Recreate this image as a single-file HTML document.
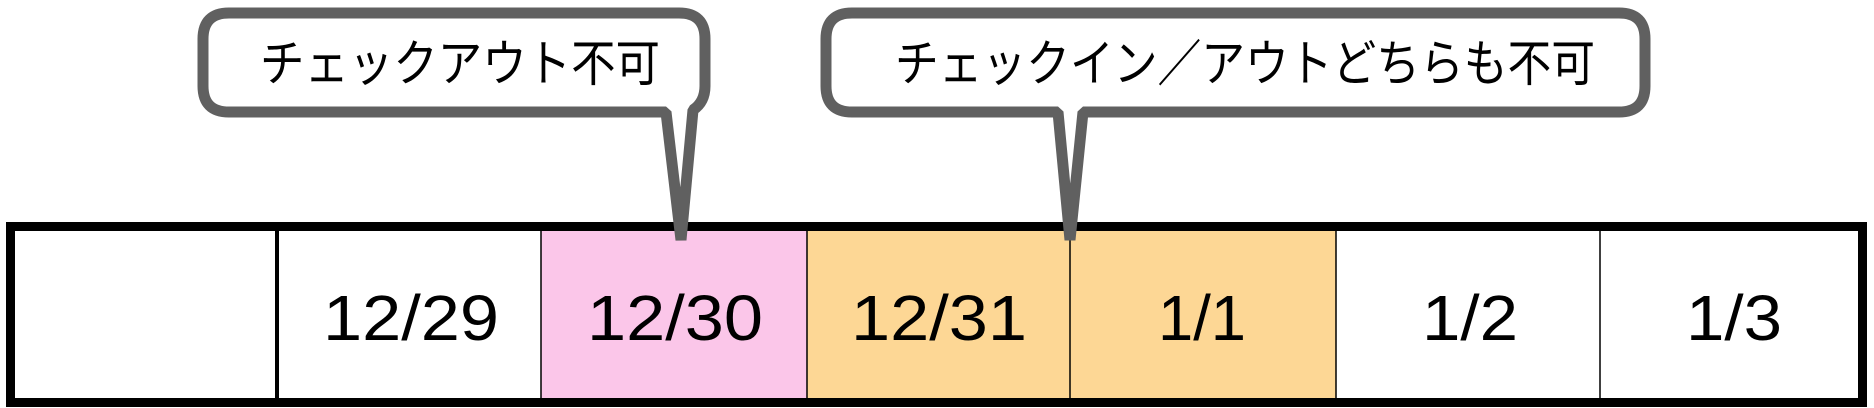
<!DOCTYPE html>
<html><head><meta charset="utf-8"><style>
html,body{margin:0;padding:0;background:#fff;}
svg{display:block;}
text{font-family:"Liberation Sans","Noto Sans CJK JP",sans-serif;}
</style></head><body>
<svg width="1874" height="408" viewBox="0 0 1874 408" xmlns="http://www.w3.org/2000/svg">
<rect x="0" y="0" width="1874" height="408" fill="#fff"/>
<rect x="541" y="227" width="266" height="172" fill="#fbc6e9"/>
<rect x="807" y="227" width="529" height="172" fill="#fdd795"/>
<g stroke="#000" stroke-width="1.5">
<line x1="541" y1="227" x2="541" y2="400"/>
<line x1="807" y1="227" x2="807" y2="400"/>
<line x1="1070" y1="227" x2="1070" y2="400"/>
<line x1="1336" y1="227" x2="1336" y2="400"/>
<line x1="1600" y1="227" x2="1600" y2="400"/>
</g>
<line x1="277" y1="227" x2="277" y2="400" stroke="#000" stroke-width="4"/>
<rect x="10.5" y="226.5" width="1852" height="176" fill="none" stroke="#000" stroke-width="9"/>
<g font-size="64" fill="#000">
<text x="323" y="340" textLength="176" lengthAdjust="spacingAndGlyphs">12/29</text>
<text x="587" y="340" textLength="176" lengthAdjust="spacingAndGlyphs">12/30</text>
<text x="851" y="340" textLength="176" lengthAdjust="spacingAndGlyphs">12/31</text>
<text x="1158" y="340" textLength="88" lengthAdjust="spacingAndGlyphs">1/1</text>
<text x="1422" y="340" textLength="96" lengthAdjust="spacingAndGlyphs">1/2</text>
<text x="1686" y="340" textLength="96" lengthAdjust="spacingAndGlyphs">1/3</text>
</g>
<path d="M229,13 H679 Q705,13 705,39 V86 Q705,102 693,110 L681,240 L666,112 H229 Q203,112 203,86 V39 Q203,13 229,13 Z" fill="#fff" stroke="#606060" stroke-width="11" stroke-linejoin="bevel"/>
<path d="M852,13 H1619 Q1645,13 1645,39 V86 Q1645,112 1619,112 H1083 L1070,240 L1058,112 H852 Q826,112 826,86 V39 Q826,13 852,13 Z" fill="#fff" stroke="#606060" stroke-width="11" stroke-linejoin="bevel"/>
<g font-size="50" fill="#000">
<text x="260" y="81" textLength="400" lengthAdjust="spacingAndGlyphs">チェックアウト不可</text>
<text x="895" y="81" textLength="700" lengthAdjust="spacingAndGlyphs">チェックイン／アウトどちらも不可</text>
</g>
</svg>
</body></html>
